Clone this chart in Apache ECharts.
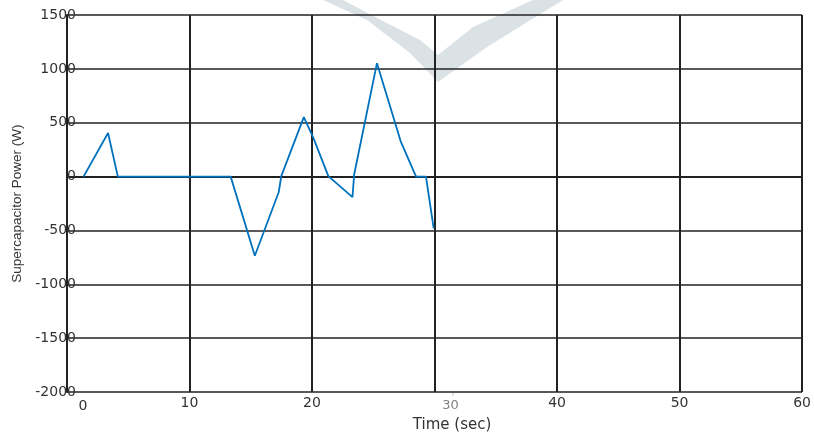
<!DOCTYPE html>
<html>
<head>
<meta charset="utf-8">
<script src="https://cdn.jsdelivr.net/npm/echarts@6/dist/echarts.min.js"></script>
<style>html,body{margin:0;padding:0;background:#fff}#c{width:814px;height:438px}</style>
</head>
<body>
<div id="c"></div>
<script>
// Data
var timeSec = [1.35, 3.35, 4.15, 13.36, 15.33, 17.28, 17.49, 19.33, 20.11, 21.33, 21.45, 23.3, 23.44, 25.3, 27.23, 28.49, 29.3, 29.93];
var powerW  = [0, 405, 0, 0, -735, -145, 5, 552, 360, 5, -10, -190, 20, 1053, 330, 0, 0, -480];
var xTicks = [0, 10, 20, 30, 40, 50, 60];
var yTicks = [-2000, -1500, -1000, -500, 0, 500, 1000, 1500];

var pts = timeSec.map(function (t, i) { return [t, powerW[i]]; });
var FONT = 'DejaVu Sans';

var chart = echarts.init(document.getElementById('c'), null, {renderer: 'canvas'});
chart.setOption({
  animation: false,
  backgroundColor: '#ffffff',
  grid: {left: 67, right: 8, top: 15, bottom: 41, containLabel: false},
  graphic: [{
    type: 'polygon',
    z: -10,
    silent: true,
    shape: {points: [[323, 0], [343, 0], [383, 21], [420, 40], [438, 55], [473, 27], [533, 0], [563, 0], [487, 47], [438, 82], [410, 53], [367, 20]]},
    style: {fill: '#dbe2e6'}
  }, {
    type: 'line', z: -5, silent: true,
    shape: {x1: 453, y1: 391, x2: 453, y2: 396},
    style: {stroke: '#c8c8c8', lineWidth: 1}
  }],
  xAxis: {
    type: 'value', min: xTicks[0], max: xTicks[xTicks.length - 1], interval: 10,
    name: 'Time (sec)', nameLocation: 'middle', nameGap: 25,
    nameTextStyle: {fontFamily: FONT, fontSize: 15, color: '#333', padding: [0, 0, 0, 35]},
    axisLine: {show: true, lineStyle: {color: '#222', width: 2}},
    axisTick: {show: false},
    axisLabel: {
      margin: 4, fontFamily: FONT, fontSize: 14, color: '#333',
      formatter: function (v) {
        if (v === 0) return '{s|0}';
        if (v === 30) return '{g|30}';
        return String(v);
      },
      rich: {
        s: {padding: [3, 0, 0, 32], fontFamily: FONT, fontSize: 14, color: '#333'},
        g: {padding: [3, 0, 0, 32], fontFamily: FONT, fontSize: 13, color: '#808080'}
      }
    },
    splitLine: {show: true, lineStyle: {color: '#222', width: 2}}
  },
  yAxis: {
    type: 'value', min: yTicks[0], max: yTicks[yTicks.length - 1], interval: 500,
    name: 'Supercapacitor Power (W)', nameLocation: 'middle', nameGap: 42,
    nameTextStyle: {fontFamily: 'Liberation Sans', fontSize: 13.5, color: '#333'},
    axisLine: {show: true, lineStyle: {color: '#222', width: 2}},
    axisTick: {show: false},
    axisLabel: {margin: -9, fontFamily: FONT, fontSize: 14, color: '#333',
      formatter: function (v) { return String(v); }},
    splitLine: {show: true, lineStyle: {color: '#222', width: 1.5}}
  },
  series: [{
    type: 'line', data: pts, showSymbol: false, symbol: 'none',
    lineStyle: {color: '#0072BD', width: 1.8}, z: 5
  }]
});
</script>
</body>
</html>
